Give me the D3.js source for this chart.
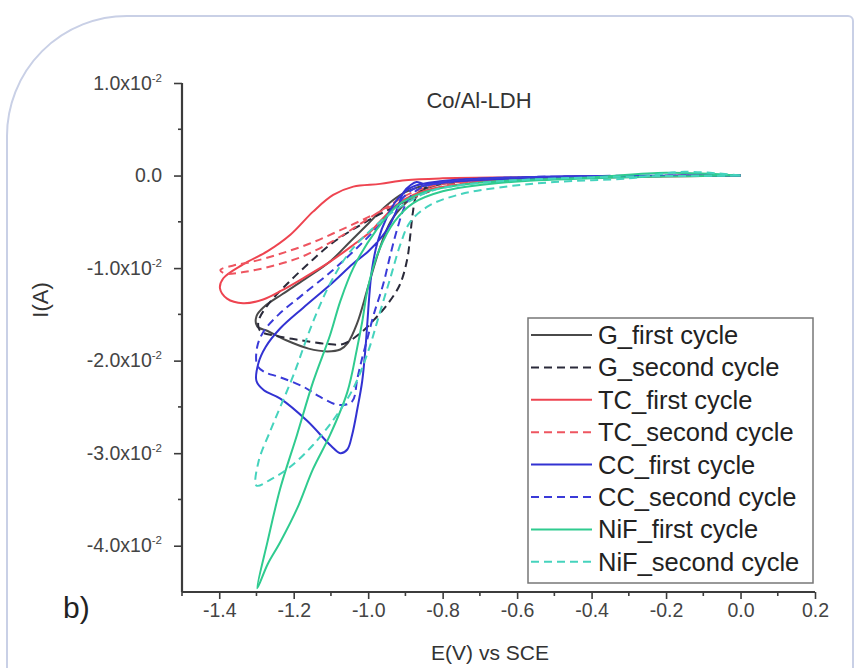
<!DOCTYPE html>
<html>
<head>
<meta charset="utf-8">
<script src="https://cdn.jsdelivr.net/npm/d3@7"></script>
<style>
  html, body { margin: 0; padding: 0; background: #ffffff; }
  svg { display: block; font-family: "Liberation Sans", Arial, sans-serif; }
</style>
</head>
<body>
<svg id="chart" width="855" height="668"></svg>
<script>
// Cyclic voltammograms of Co/Al-LDH on four substrates, [E (V vs SCE), I (A)]
const gFirst = [[0,0],[-0.4,-0.0001],[-0.6,-0.0003],[-0.75,-0.0006],[-0.85,-0.0011],[-0.9,-0.0018],[-0.95,-0.0032],[-1.0,-0.0052],[-1.05,-0.0072],[-1.1,-0.0092],[-1.17,-0.0112],[-1.23,-0.0128],[-1.28,-0.0142],[-1.3,-0.0152],[-1.298,-0.0163],[-1.27,-0.0168],[-1.22,-0.0178],[-1.16,-0.0187],[-1.11,-0.0190],[-1.075,-0.0188],[-1.055,-0.0181],[-1.03,-0.0160],[-1.0,-0.0120],[-0.97,-0.0080],[-0.94,-0.0050],[-0.9,-0.0030],[-0.85,-0.0015],[-0.75,-0.0006],[-0.5,-0.0002],[0,0]];
const gSecond = [[0,0],[-0.5,-0.0002],[-0.7,-0.0005],[-0.8,-0.0012],[-0.9,-0.0028],[-0.97,-0.0042],[-1.04,-0.0058],[-1.1,-0.0074],[-1.16,-0.0095],[-1.22,-0.0118],[-1.27,-0.0140],[-1.295,-0.0158],[-1.29,-0.0168],[-1.25,-0.0173],[-1.18,-0.0178],[-1.11,-0.0182],[-1.067,-0.0182],[-1.02,-0.0170],[-0.987,-0.0157],[-0.95,-0.0140],[-0.915,-0.0118],[-0.895,-0.0090],[-0.887,-0.0065],[-0.88,-0.0040],[-0.87,-0.0022],[-0.83,-0.0010],[-0.7,-0.0004],[-0.4,-0.0001],[0,0]];
const tcFirst = [[0,0],[-0.377,-0.0001],[-0.6,-0.0002],[-0.8,-0.0003],[-0.9,-0.0005],[-0.968,-0.0009],[-1.04,-0.0012],[-1.094,-0.0021],[-1.148,-0.0039],[-1.209,-0.0064],[-1.271,-0.0082],[-1.336,-0.0096],[-1.389,-0.0111],[-1.398,-0.0122],[-1.379,-0.0133],[-1.336,-0.0138],[-1.282,-0.0134],[-1.236,-0.0125],[-1.175,-0.0111],[-1.102,-0.0093],[-1.04,-0.0075],[-0.995,-0.0061],[-0.96,-0.0046],[-0.922,-0.0031],[-0.879,-0.0021],[-0.826,-0.0014],[-0.745,-0.0009],[-0.592,-0.0004],[-0.377,-0.0002],[0,0]];
const tcSecond = [[0,0],[-0.5,-0.0002],[-0.7,-0.0005],[-0.8,-0.0012],[-0.87,-0.0022],[-0.93,-0.0032],[-1.0,-0.0045],[-1.08,-0.0060],[-1.16,-0.0074],[-1.24,-0.0085],[-1.31,-0.0093],[-1.36,-0.0097],[-1.397,-0.0102],[-1.385,-0.0106],[-1.33,-0.0104],[-1.26,-0.0098],[-1.18,-0.0088],[-1.1,-0.0072],[-1.02,-0.0052],[-0.95,-0.0034],[-0.88,-0.0018],[-0.8,-0.0009],[-0.6,-0.0003],[0,0]];
const ccFirst = [[0,0],[-0.5,-0.0002],[-0.75,-0.0006],[-0.85,-0.0009],[-0.87,-0.0007],[-0.885,-0.0010],[-0.905,-0.0018],[-0.92,-0.0034],[-0.94,-0.0052],[-0.963,-0.0066],[-1.0,-0.0082],[-1.04,-0.0095],[-1.102,-0.0118],[-1.175,-0.0143],[-1.236,-0.0165],[-1.275,-0.0185],[-1.295,-0.0203],[-1.3,-0.0222],[-1.28,-0.0232],[-1.236,-0.0241],[-1.164,-0.0265],[-1.1,-0.0292],[-1.075,-0.0300],[-1.056,-0.0296],[-1.043,-0.0280],[-1.029,-0.0252],[-1.016,-0.0222],[-1.008,-0.0190],[-1.002,-0.0158],[-0.997,-0.0130],[-0.99,-0.0102],[-0.975,-0.0072],[-0.95,-0.0045],[-0.92,-0.0025],[-0.88,-0.0012],[-0.8,-0.0006],[-0.6,-0.0002],[0,0]];
const ccSecond = [[0,0],[-0.6,-0.0002],[-0.8,-0.0008],[-0.88,-0.0015],[-0.93,-0.0035],[-0.98,-0.0058],[-1.04,-0.0082],[-1.1,-0.0104],[-1.18,-0.0130],[-1.24,-0.0150],[-1.28,-0.0168],[-1.298,-0.0185],[-1.298,-0.0205],[-1.28,-0.0212],[-1.236,-0.0218],[-1.175,-0.0228],[-1.13,-0.0239],[-1.078,-0.0248],[-1.043,-0.0244],[-1.029,-0.0219],[-1.016,-0.0197],[-1.002,-0.0176],[-0.985,-0.0150],[-0.96,-0.0118],[-0.94,-0.0085],[-0.92,-0.0055],[-0.9,-0.0032],[-0.87,-0.0016],[-0.8,-0.0007],[-0.6,-0.0002],[0,0]];
const nifFirst = [[0,0],[-0.2,0.0003],[-0.4,-0.0002],[-0.6,-0.0005],[-0.75,-0.0010],[-0.85,-0.0018],[-0.92,-0.0032],[-0.98,-0.0060],[-1.04,-0.0100],[-1.075,-0.0136],[-1.102,-0.0172],[-1.148,-0.0223],[-1.191,-0.0280],[-1.236,-0.0338],[-1.27,-0.0395],[-1.298,-0.0446],[-1.27,-0.0420],[-1.236,-0.0396],[-1.191,-0.0360],[-1.148,-0.0317],[-1.102,-0.0280],[-1.056,-0.0234],[-1.03,-0.0187],[-1.016,-0.0158],[-1.0,-0.0120],[-0.97,-0.0080],[-0.93,-0.0050],[-0.88,-0.0030],[-0.8,-0.0017],[-0.65,-0.0008],[-0.4,-0.0003],[0,0]];
const nifSecond = [[0,0],[-0.15,0.0004],[-0.3,-0.0003],[-0.5,-0.0007],[-0.65,-0.0013],[-0.75,-0.0020],[-0.834,-0.0032],[-0.887,-0.0050],[-0.914,-0.0075],[-0.94,-0.0110],[-0.97,-0.0150],[-1.0,-0.0190],[-1.04,-0.0230],[-1.09,-0.0262],[-1.15,-0.0292],[-1.21,-0.0315],[-1.26,-0.0328],[-1.3,-0.0335],[-1.295,-0.0310],[-1.262,-0.0275],[-1.236,-0.0250],[-1.2,-0.0215],[-1.15,-0.0160],[-1.1,-0.0115],[-1.048,-0.0082],[-0.968,-0.0050],[-0.914,-0.0034],[-0.834,-0.0017],[-0.7,-0.0008],[-0.4,-0.0002],[0,0]];

const seriesNames = ["G_first cycle","G_second cycle","TC_first cycle","TC_second cycle","CC_first cycle","CC_second cycle","NiF_first cycle","NiF_second cycle"];
const seriesData = [gFirst, gSecond, tcFirst, tcSecond, ccFirst, ccSecond, nifFirst, nifSecond];
const seriesColors = ["#4a4a4a","#2a2a3a","#ee4450","#ee5560","#3232d2","#3a3ad8","#2fcb8f","#45d3bd"];
const seriesDashed = [false,true,false,true,false,true,false,true];

const xTicks = [-1.4,-1.2,-1.0,-0.8,-0.6,-0.4,-0.2,0.0,0.2];
const yTicks = [0.01,0,-0.01,-0.02,-0.03,-0.04];

const svg = d3.select("#chart");

// Panel outline with a rounded top-left corner
svg.append("path")
  .attr("d", "M7,668 L7,136 A120,120 0 0 1 127,16 L848,16 A5,5 0 0 1 853,21 L853,668")
  .attr("fill", "none").attr("stroke", "#c9d0e6").attr("stroke-width", 2);

const x = d3.scaleLinear().domain([-1.5, 0.2]).range([182, 815]);
const y = d3.scaleLinear().domain([-0.045, 0.01]).range([592, 83]);

const line = d3.line()
  .x(d => x(d[0])).y(d => y(d[1]))
  .curve(d3.curveCatmullRom.alpha(0.5));

const plot = svg.append("g");
seriesData.forEach((pts, i) => {
  plot.append("path")
    .datum(pts)
    .attr("d", line)
    .attr("fill", "none")
    .attr("stroke", seriesColors[i])
    .attr("stroke-width", 2)
    .attr("stroke-linejoin", "round")
    .attr("stroke-dasharray", seriesDashed[i] ? "8,5" : null);
});

// Axes
const axisColor = "#3c3c3c";
const tickFont = 19.5;
const xAxis = d3.axisBottom(x).tickValues(xTicks).tickSize(7).tickSizeOuter(0).tickPadding(4)
  .tickFormat(d3.format(".1f"));
const gx = svg.append("g").attr("transform", `translate(0,${y(-0.045)})`).call(xAxis);
gx.select(".domain").attr("stroke", axisColor).attr("stroke-width", 2.2)
  .attr("d", `M${x(-1.5)},0H${x(0.2)}`);
gx.selectAll(".tick line").attr("stroke", axisColor).attr("stroke-width", 1.6);
gx.selectAll(".tick text").attr("fill", "#444").attr("font-size", tickFont)
  .text(d => d < 0 ? "-" + Math.abs(d).toFixed(1) : d.toFixed(1));
const xMinor = d3.range(-1.5, 0.21, 0.1).map(v => +v.toFixed(2)).filter(v => !xTicks.some(t => Math.abs(t - v) < 1e-6));
gx.selectAll(".minor").data(xMinor).enter().append("line")
  .attr("x1", d => x(d)).attr("x2", d => x(d)).attr("y1", 0).attr("y2", 4)
  .attr("stroke", axisColor).attr("stroke-width", 1.6);

const yAxis = d3.axisLeft(y).tickValues(yTicks).tickSize(8).tickSizeOuter(0).tickPadding(12).tickFormat("");
const gy = svg.append("g").attr("transform", `translate(${x(-1.5)},0)`).call(yAxis);
gy.select(".domain").attr("stroke", axisColor).attr("stroke-width", 2.2)
  .attr("d", `M0,${y(0.01)}V${y(-0.045)}`);
gy.selectAll(".tick line").attr("stroke", axisColor).attr("stroke-width", 1.6);
gy.selectAll(".tick text").each(function(d) {
  const t = d3.select(this).attr("fill", "#444").attr("font-size", tickFont).text(null);
  if (d === 0) { t.text("0.0"); return; }
  const m = d / 0.01;
  t.append("tspan").text((m < 0 ? "-" : "") + Math.abs(m).toFixed(1) + "x10");
  t.append("tspan").attr("dy", -8).attr("font-size", 11.5).text("-2");
});
const yMinor = [0.005,-0.005,-0.015,-0.025,-0.035];
gy.selectAll(".minor").data(yMinor).enter().append("line")
  .attr("x1", 0).attr("x2", -4).attr("y1", d => y(d)).attr("y2", d => y(d))
  .attr("stroke", axisColor).attr("stroke-width", 1.6);

// Titles
svg.append("text").attr("x", 479).attr("y", 108).attr("text-anchor", "middle")
  .attr("font-size", 22).attr("fill", "#333").text("Co/Al-LDH");
svg.append("text").attr("x", 490).attr("y", 660).attr("text-anchor", "middle")
  .attr("font-size", 21).attr("fill", "#333").text("E(V) vs SCE");
svg.append("text").attr("transform", "translate(48,300) rotate(-90)").attr("text-anchor", "middle")
  .attr("font-size", 22).attr("fill", "#333").text("I(A)");
svg.append("text").attr("x", 63).attr("y", 618).attr("font-size", 30).attr("fill", "#222").text("b)");

// Legend
const legend = svg.append("g");
legend.append("rect").attr("x", 528).attr("y", 318).attr("width", 285).attr("height", 265)
  .attr("fill", "#fff").attr("stroke", "#777").attr("stroke-width", 1.5);
seriesNames.forEach((name, i) => {
  const yy = 335 + i * 32.4;
  legend.append("line").attr("x1", 531).attr("x2", 592).attr("y1", yy).attr("y2", yy)
    .attr("stroke", seriesColors[i]).attr("stroke-width", 2)
    .attr("stroke-dasharray", seriesDashed[i] ? "8,5" : null);
  legend.append("text").attr("x", 598).attr("y", yy + 9).attr("font-size", 25.5)
    .attr("fill", "#222").text(name);
});
</script>
</body>
</html>
